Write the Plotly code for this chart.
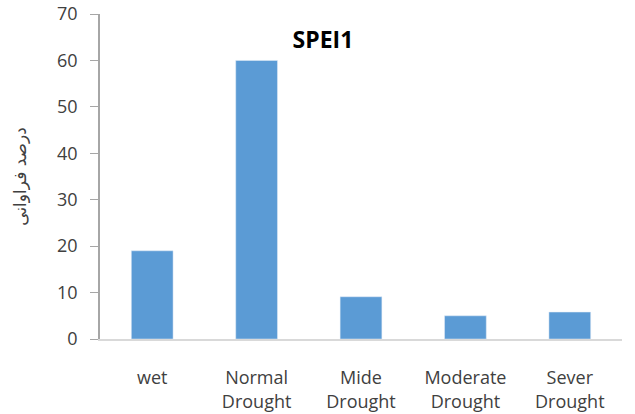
import plotly.graph_objects as go

categories = ["wet", "Normal<br>Drought", "Mide<br>Drought", "Moderate<br>Drought", "Sever<br>Drought"]
values = [19, 60, 9.1, 5, 5.8]
y_ticks = [0, 10, 20, 30, 40, 50, 60, 70]
title_text = "SPEI1"
y_title = "درصد فراوانی"

W, H = 635, 414

fig = go.Figure(go.Bar(x=categories, y=values, marker_color="#5B9BD5", width=0.4))

fig.update_layout(
    width=W, height=H,
    margin=dict(l=100, r=13, t=14, b=75),
    plot_bgcolor="white", paper_bgcolor="white",
    font=dict(family="Open Sans", color="#404040", size=18),
    showlegend=False,
    title=dict(text="<b>" + title_text + "</b>", xref="container", x=323 / W, xanchor="center",
               yref="container", y=1 - 40 / H, yanchor="middle",
               font=dict(size=23, color="black", family="Open Sans")),
)
fig.update_xaxes(showline=True, linecolor="#d9d9d9", linewidth=1.5, ticks="",
                 ticklabelstandoff=22, tickfont=dict(size=18), automargin=False)
fig.update_yaxes(range=[0, 70], tickvals=y_ticks, showgrid=False, zeroline=False,
                 showline=True, linecolor="#a6a6a6", linewidth=1.5, ticks="outside",
                 ticklen=8, tickcolor="#a6a6a6", tickfont=dict(size=18),
                 ticklabelstandoff=9, automargin=False, ticklabeloverflow="allow",
                 title=dict(text=y_title, standoff=26, font=dict(size=17, family="DejaVu Sans")))

fig.write_html("out.html", config={"displayModeBar": False},
               post_script="document.body.style.margin='0';")
